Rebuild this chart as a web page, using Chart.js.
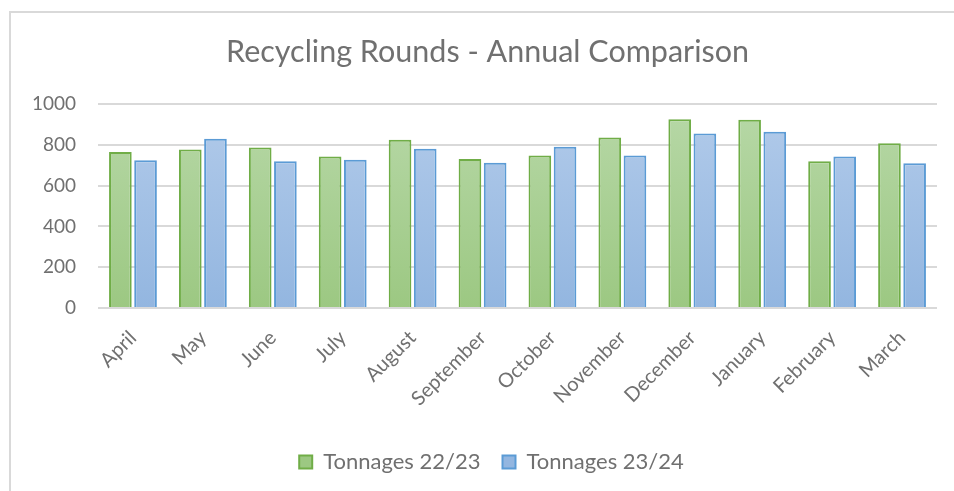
<!DOCTYPE html>
<html>
<head>
<meta charset="utf-8">
<script src="https://cdn.jsdelivr.net/npm/chart.js@4/dist/chart.umd.min.js"></script>
<style>
  html, body { margin: 0; padding: 0; background: #fff; }
  .frame {
    position: absolute; left: 9px; top: 11px; right: 0; bottom: 0;
    border-top: 2px solid #d9d9d9; border-left: 2px solid #d9d9d9;
  }
  #chart { position: absolute; left: 0; top: 0; }
</style>
</head>
<body>
<div class="frame"></div>
<canvas id="chart" width="954" height="491"></canvas>
<script>
/* ============== Data ===========*/
const months = ['April', 'May', 'June', 'July', 'August', 'September',
  'October', 'November', 'December', 'January', 'February', 'March'];
const tonnages2223 = [765, 777, 787, 743, 825, 730, 748, 836, 925, 923, 719, 807];
const tonnages2324 = [724, 830, 719, 727, 781, 712, 791, 747, 856, 864, 743, 709];
const yTicks = [0, 200, 400, 600, 800, 1000];

const textColor = '#707070';
const font = 'Lato, "Open Sans", sans-serif';

// vertical gradient like the Excel fill, lighter at the top
function gradient(top, bottom, solid) {
  return (ctx) => {
    const area = ctx.chart.chartArea;
    if (!area) return solid;
    const g = ctx.chart.ctx.createLinearGradient(0, area.top, 0, area.bottom);
    g.addColorStop(0, top);
    g.addColorStop(1, bottom);
    return g;
  };
}

// title and legend sit a little right of the page centre in the original
const shiftBlocks = {
  id: 'shiftBlocks',
  afterLayout(chart) {
    chart.legend.left += 18;
    chart.legend.right += 18;
    chart.titleBlock.left += 14;
    chart.titleBlock.right += 14;
  }
};

const graf = document.getElementById('chart');

const data = {
  labels: months,
  datasets: [{
    label: 'Tonnages 22/23',
    data: tonnages2223,
    backgroundColor: gradient('#b7d8a7', '#9cc882', '#a9d08e'),
    borderColor: '#70ad47',
    borderWidth: 2,
    borderSkipped: 'bottom'
  }, {
    label: 'Tonnages 23/24',
    data: tonnages2324,
    backgroundColor: gradient('#b2cbea', '#93b6e0', '#a4c2e6'),
    borderColor: '#5b9bd5',
    borderWidth: 2,
    borderSkipped: 'bottom'
  }]
};

const config = {
  type: 'bar',
  data,
  plugins: [shiftBlocks],
  options: {
    responsive: false,
    animation: false,
    categoryPercentage: 0.72,
    barPercentage: 0.9,
    layout: { padding: { left: 10, right: 17, top: 0, bottom: 8 } },
    plugins: {
      title: {
        display: true,
        text: 'Recycling Rounds - Annual Comparison',
        color: textColor,
        font: { family: font, size: 30.5, weight: 'normal' },
        padding: { top: 34, bottom: 33.4 }
      },
      legend: {
        position: 'bottom',
        labels: {
          color: textColor,
          font: { family: font, size: 22, weight: 'normal' },
          boxWidth: 13,
          boxHeight: 13,
          padding: 22
        }
      },
      tooltip: { enabled: false }
    },
    scales: {
      y: {
        min: 0,
        max: 1000,
        afterFit: (s) => { s.width = 88; },
        afterBuildTicks: (s) => { s.ticks = yTicks.map(v => ({ value: v })); },
        border: { display: false },
        grid: { color: '#d9d9d9', lineWidth: 2, drawTicks: false },
        ticks: {
          color: textColor,
          font: { family: font, size: 19, weight: 'normal' },
          padding: 22,
          callback: (v) => String(v)
        }
      },
      x: {
        afterFit: (s) => { s.height = 121; },
        grid: { display: false },
        border: { display: false },
        ticks: {
          color: textColor,
          font: { family: font, size: 20, weight: 'normal' },
          minRotation: 45,
          maxRotation: 45,
          padding: 10
        }
      }
    }
  }
};

const myChart = new Chart(graf, config);
</script>
</body>
</html>
